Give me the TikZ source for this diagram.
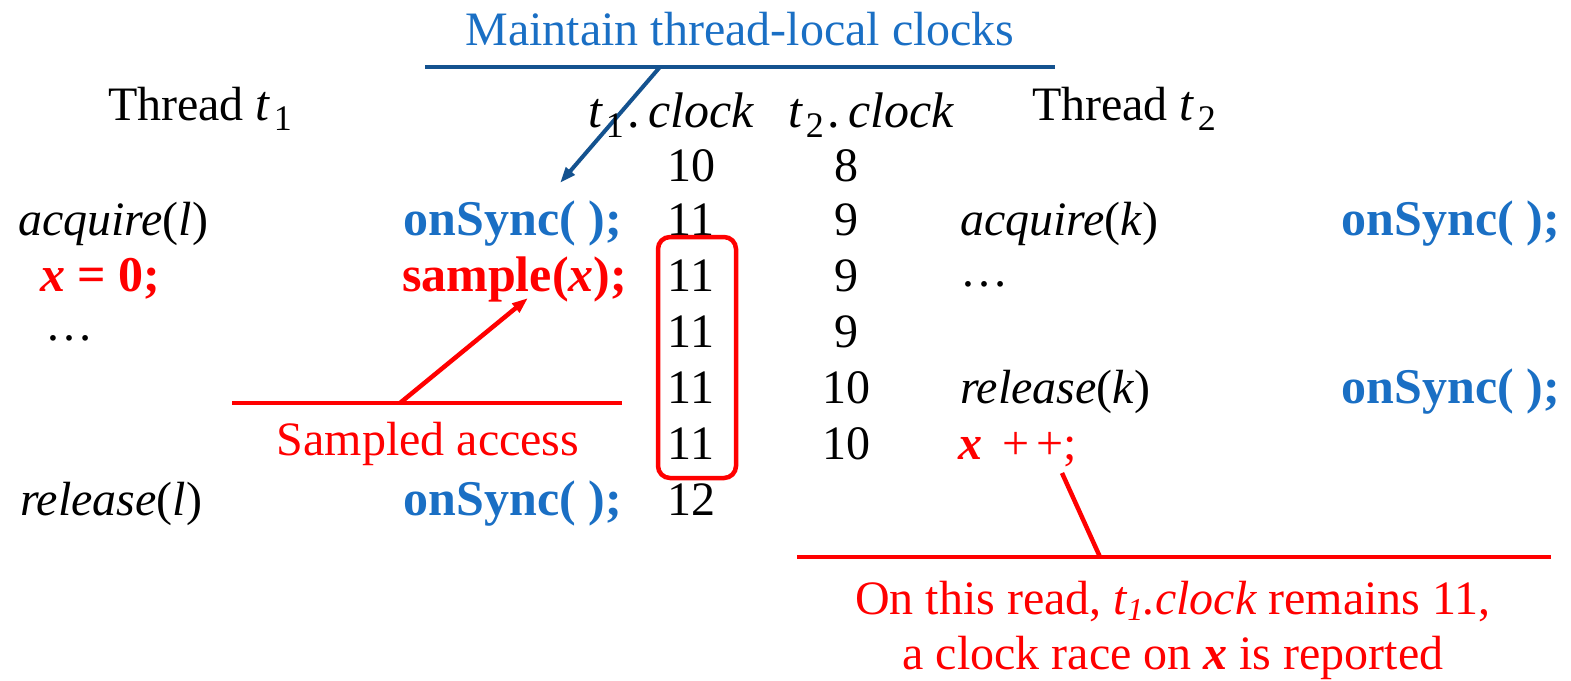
\documentclass[tikz,border=0pt]{standalone}
\usepackage{fontspec}
\setmainfont{Liberation Serif}
\usetikzlibrary{arrows.meta}
\definecolor{tblue}{HTML}{1A6FC4}
\definecolor{lblue}{HTML}{14528F}
\definecolor{tred}{HTML}{FF0000}
% Cambria-math-like t with subscript
\newcommand\mt[1]{{\fontsize{50}{56}\selectfont\itshape t}\hspace{4pt}\raisebox{-10pt}{\fontsize{36}{36}\selectfont #1}}
\newcommand\mclk[1]{\mt{#1}\hspace{4pt}{\fontsize{50}{56}\selectfont .\hspace{8pt}\itshape clock}}
\begin{document}
\begin{tikzpicture}[x=1pt,y=-1pt,
  every node/.style={inner sep=0pt,outer sep=0pt,font=\fontsize{48}{56}\selectfont},
  txt/.style={anchor=base west},
  ctxt/.style={anchor=base},
  sync/.style={anchor=base east,text=tblue,font=\fontsize{50}{56}\selectfont\bfseries},
  redtxt/.style={text=tred},
  blueline/.style={draw=lblue,line width=4pt},
  redline/.style={draw=tred,line width=4.5pt},
  tip/.style={-{Triangle[length=16pt,width=11pt]}}
]
\useasboundingbox (0,0) rectangle (1571,680);

% title
\node[ctxt,text=tblue] (title) at (740,45) {Maintain thread-local clocks};
\coordinate (bl) at (425,67);
\coordinate (br) at (1055,67);
\coordinate (bj) at (660,67);
\coordinate (ba) at (560,183);
\draw[blueline] (bl) -- (br);
\draw[blueline,tip] (bj) -- (ba);

% headers
\node[txt] (th1) at (108,120) {Thread \mt{1}};
\node[txt] (c1) at (588,127) {\mclk{1}};
\node[txt] (c2) at (788,127) {\mclk{2}};
\node[txt] (th2) at (1032,120) {Thread \mt{2}};

% clock columns
\node[ctxt] (a0) at (691,181) {10};
\node[ctxt] (a1) at (691,235) {11};
\node[ctxt] (a2) at (691,291) {11};
\node[ctxt] (a3) at (691,347) {11};
\node[ctxt] (a4) at (691,403) {11};
\node[ctxt] (a5) at (691,459) {11};
\node[ctxt] (a6) at (691,515) {12};
\node[ctxt] (b0) at (846,181) {8};
\node[ctxt] (b1) at (846,235) {9};
\node[ctxt] (b2) at (846,291) {9};
\node[ctxt] (b3) at (846,347) {9};
\node[ctxt] (b4) at (846,403) {10};
\node[ctxt] (b5) at (846,459) {10};

% thread 1 code
\node[txt] (acq1) at (18,235) {\itshape acquire\upshape(\itshape l\upshape)};
\node[txt,redtxt,font=\fontsize{50}{56}\selectfont] (x0) at (40,291) {\bfseries\itshape x\upshape\ = 0;};
\node[txt] (dots1) at (45,340) {\dots};
\node[txt] (rel1) at (20,515) {\itshape release\upshape(\itshape l\upshape)};
\node[sync] (s1) at (622,235) {onSync( );};
\node[sync,text=tred] (samp) at (627,291) {sample(\itshape x\upshape);};
\node[sync] (s2) at (622,515) {onSync( );};

% thread 2 code
\node[txt] (acq2) at (960,235) {\itshape acquire\upshape(\itshape k\upshape)};
\node[txt] (dots2) at (960,286) {\dots};
\node[txt] (rel2) at (960,403) {\itshape release\upshape(\itshape k\upshape)};
\node[txt,redtxt] (xpp) at (958,459) {{\bfseries\itshape x}\hspace{20pt}+\hspace{7pt}+;};
\node[sync] (s3) at (1560,235) {onSync( );};
\node[sync] (s4) at (1560,403) {onSync( );};

% red box
\draw[redline,rounded corners=12pt] (658,237) rectangle (736,478);

% sampled access
\coordinate (sl) at (232,403);
\coordinate (sr) at (622,403);
\coordinate (sj) at (400,403);
\coordinate (sa) at (528,298);
\draw[redline] (sl) -- (sr);
\draw[redline,tip] (sj) -- (sa);
\node[ctxt,redtxt] (sacc) at (428,455) {Sampled access};

% bottom annotation
\coordinate (rl) at (797,557);
\coordinate (rr) at (1551,557);
\coordinate (rj) at (1100,557);
\coordinate (rt) at (1062,473);
\draw[redline] (rl) -- (rr);
\draw[redline] (rj) -- (rt);
\node[anchor=north,redtxt,align=center,font=\fontsize{48}{55}\selectfont] (note) at (1173,581)
  {On this read, {\itshape t\raisebox{-6pt}{\fontsize{32}{32}\selectfont 1}.clock} remains 11,\\a clock race on {\bfseries\itshape x} is reported};
\end{tikzpicture}
\end{document}
